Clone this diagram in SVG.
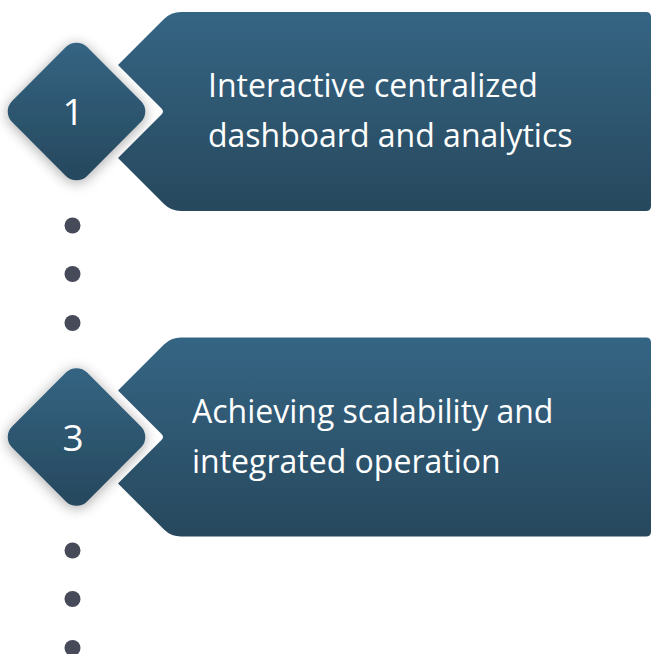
<svg xmlns="http://www.w3.org/2000/svg" width="651" height="654" viewBox="0 0 651 654">
<defs>
<linearGradient id="gBanner" x1="0" y1="0" x2="0" y2="1">
<stop offset="0" stop-color="#356584"/>
<stop offset="1" stop-color="#27485d"/>
</linearGradient>
<linearGradient id="gDiamond" x1="0" y1="0" x2="0" y2="1">
<stop offset="0" stop-color="#346482"/>
<stop offset="1" stop-color="#26485d"/>
</linearGradient>
<filter id="shadow" x="-40%" y="-40%" width="180%" height="180%">
<feGaussianBlur in="SourceAlpha" stdDeviation="7"/>
<feOffset dx="0" dy="2" result="b"/>
<feComponentTransfer><feFuncA type="linear" slope="0.35"/></feComponentTransfer>
<feMerge><feMergeNode/><feMergeNode in="SourceGraphic"/></feMerge>
</filter>
<path id="banner" d="M118,65 L164,19 Q171,12 181,12 L646,12 Q651,12 651,17 L651,206 Q651,211 646,211 L181,211 Q171,211 164,204 L118,158 L161.5,114.5 Q164.5,111.5 161.5,108.5 Z"/>
<path id="diamond" d="M65.9,47.1 A15,15 0 0 1 87.1,47.1 L140.9,100.9 A15,15 0 0 1 140.9,122.1 L87.1,175.9 A15,15 0 0 1 65.9,175.9 L12.1,122.1 A15,15 0 0 1 12.1,100.9 Z"/>
</defs>
<style>
.banner{fill:url(#gBanner);}
.diamond{fill:url(#gDiamond);filter:url(#shadow);}
.num{font-family:"Open Sans","Noto Sans",sans-serif;font-size:37px;fill:#ffffff;text-anchor:middle;}
.label{font-family:"Open Sans","Noto Sans",sans-serif;font-size:32px;fill:#ffffff;}
.dot{fill:#464a59;}
</style>
<rect width="651" height="654" fill="#ffffff"/>
<g id="connectors">
<circle class="dot" cx="72.5" cy="225.5" r="8"/>
<circle class="dot" cx="72.5" cy="274" r="8"/>
<circle class="dot" cx="72.5" cy="323" r="8"/>
<circle class="dot" cx="72.5" cy="550.5" r="8"/>
<circle class="dot" cx="72.5" cy="599" r="8"/>
<circle class="dot" cx="72.5" cy="648" r="8"/>
</g>
<g id="step1">
<use href="#banner" class="banner"/>
<use href="#diamond" class="diamond"/>
<text class="num" x="73" y="125">1</text>
<text class="label" x="208" y="97">Interactive centralized</text>
<text class="label" x="208" y="147">dashboard and analytics</text>
</g>
<g id="step3" transform="translate(0,325.5)">
<use href="#banner" class="banner"/>
<use href="#diamond" class="diamond"/>
<text class="num" x="73" y="125">3</text>
<text class="label" x="192" y="97">Achieving scalability and</text>
<text class="label" x="192" y="147">integrated operation</text>
</g>
</svg>
